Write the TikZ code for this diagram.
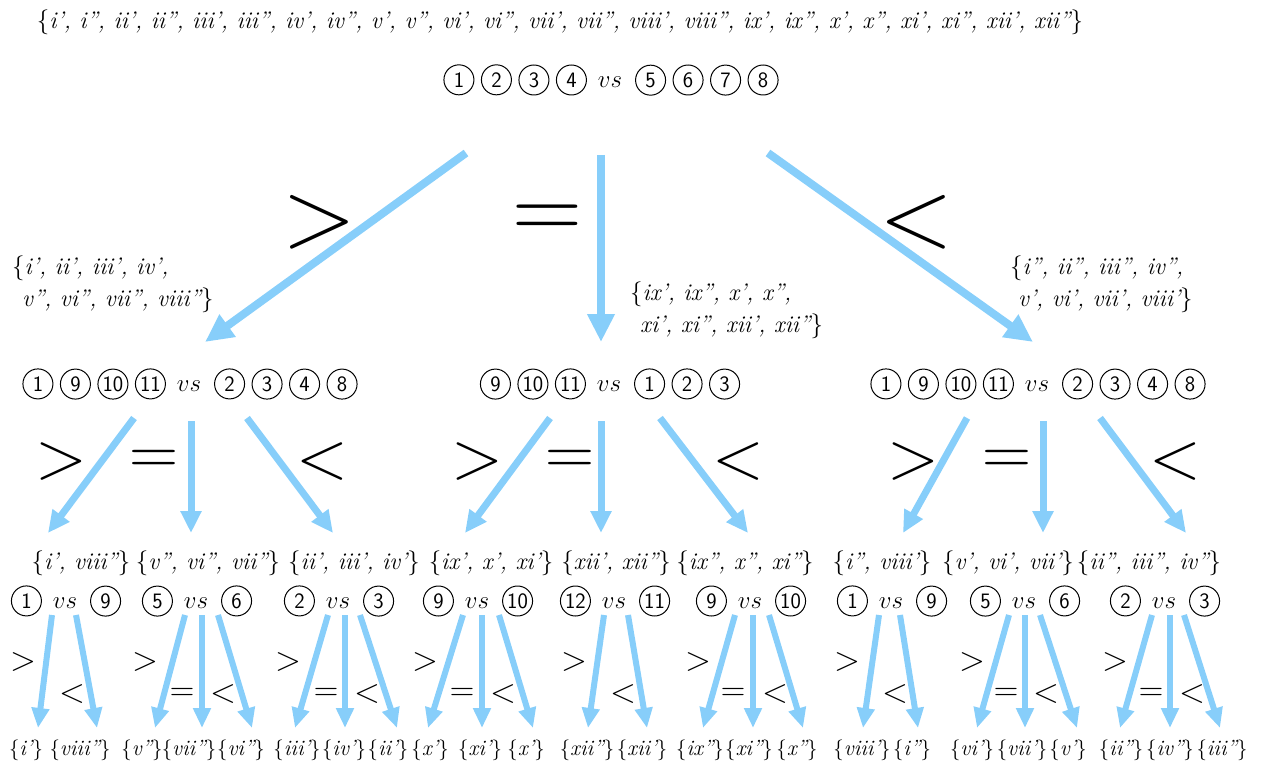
\documentclass[tikz,border=0pt]{standalone}
\usepackage{fontspec}
\usetikzlibrary{arrows.meta}
\definecolor{arrblue}{RGB}{135,206,250}
\newcommand\cn[1]{\tikz[baseline=(cnb.base)]\node[circle,draw=black,line width=1pt,minimum size=30pt,inner sep=0pt,font=\fontsize{22}{22}\selectfont\sffamily] (cnb) {#1};}
\newcommand\cg{\hspace{6.5pt}}
\newcommand\vsx{\hspace{11pt}$vs$\hspace{13pt}}
\begin{document}
\begin{tikzpicture}[x=1pt,y=-1pt,
 settext/.style={font=\fontsize{24}{32}\selectfont\itshape,inner sep=0pt,align=left},
 cmp/.style={font=\fontsize{23}{26}\selectfont,inner sep=0pt},
 symA/.style={font=\fontsize{97}{97}\selectfont,inner sep=0pt},
 symB/.style={font=\fontsize{68}{68}\selectfont,inner sep=0pt},
 symC/.style={font=\fontsize{34}{34}\selectfont,inner sep=0pt},
 botset/.style={font=\fontsize{22}{24}\selectfont\itshape,inner sep=0pt},
 arrA/.style={draw=arrblue,line width=8pt,-{Triangle[length=28pt,width=26pt]}},
 arrB/.style={draw=arrblue,line width=7pt,-{Triangle[length=22pt,width=20pt]}},
 arrC/.style={draw=arrblue,line width=6pt,-{Triangle[length=20pt,width=17pt]}}]
\useasboundingbox (0,0) rectangle (1266,767);

% ---- top
\node[settext] (topset) at (560,22) {$\{$i’, i”, ii’, ii”, iii’, iii”, iv’, iv”, v’, v”, vi’, vi”, vii’, vii”, viii’, viii”, ix’, ix”, x’, x”, xi’, xi”, xii’, xii”$\}$};
\node[cmp] (r0) at (611,80) {\cn{1}\cg\cn{2}\cg\cn{3}\cg\cn{4}\vsx\cn{5}\cg\cn{6}\cg\cn{7}\cg\cn{8}};

% ---- level 1 arrows and symbols
\coordinate (a1s) at (466,153); \coordinate (a1e) at (205,342);
\coordinate (a2s) at (601,155); \coordinate (a2e) at (601,342);
\coordinate (a3s) at (768,153); \coordinate (a3e) at (1033,342);
\draw[arrA] (a1s) -- (a1e);
\draw[arrA] (a2s) -- (a2e);
\draw[arrA] (a3s) -- (a3e);
\node[symA] (sg1) at (319,222) {>};
\node[symA] (se1) at (547,222) {=};
\node[symA] (sl1) at (916,222) {<};

\node[settext,anchor=west] (setL) at (12,284) {$\{$i’, ii’, iii’, iv’,\\\hspace*{10pt}v”, vi”, vii”, viii”$\}$};
\node[settext,anchor=west] (setM) at (630,310) {$\{$ix’, ix”, x’, x”,\\\hspace*{10pt}xi’, xi”, xii’, xii”$\}$};
\node[settext,anchor=west] (setR) at (1010,284) {$\{$i”, ii”, iii”, iv”,\\\hspace*{8pt}v’, vi’, vii’, viii’$\}$};

% ---- level 2 rows
\node[cmp] (rL) at (190,384) {\cn{1}\cg\cn{9}\cg\cn{10}\cg\cn{11}\vsx\cn{2}\cg\cn{3}\cg\cn{4}\cg\cn{8}};
\node[cmp] (rM) at (610,384) {\cn{9}\cg\cn{10}\cg\cn{11}\vsx\cn{1}\cg\cn{2}\cg\cn{3}};
\node[cmp] (rR) at (1038,384) {\cn{1}\cg\cn{9}\cg\cn{10}\cg\cn{11}\vsx\cn{2}\cg\cn{3}\cg\cn{4}\cg\cn{8}};

% ---- level 2 arrows
\foreach \xa/\xb/\ya [count=\i] in {134/48/418, 191/191/421, 247/333/418,
  550/465/418, 601/601/421, 660/748/418,
  967/903/418, 1043/1043/421, 1100/1186/418} {
  \coordinate (m\i s) at (\xa,\ya);
  \coordinate (m\i e) at (\xb,533);
  \draw[arrB] (m\i s) -- (m\i e);
}
\foreach \x/\s [count=\i] in {61/>, 154/=, 322/<, 477/>, 570/=, 738/<, 913/>, 1007/=, 1175/<}
  \node[symB] (ms\i) at (\x,462) {\s};

% ---- level 3 sets
\foreach \x/\t [count=\i] in {81/{i’, viii”}, 208/{v”, vi”, vii”}, 354/{ii’, iii’, iv’},
  491/{ix’, x’, xi’}, 616/{xii’, xii”}, 745/{ix”, x”, xi”},
  882/{i”, viii’}, 1008/{v’, vi’, vii’}, 1149/{ii”, iii”, iv”}}
  \node[settext] (ls\i) at (\x,563) {$\{$\t$\}$};

% ---- level 3 comparisons
\foreach \x/\p/\q [count=\i] in {66/1/9, 197/5/6, 339/2/3, 478/9/10, 615/12/11, 751/9/10, 892/1/9, 1025/5/6, 1165/2/3}
  \node[cmp] (lc\i) at (\x,601) {\cn{\p}\vsx\cn{\q}};

% ---- level 3 arrows
\foreach \xa/\xb [count=\i] in {52/38, 76/97,
  185/155, 202/202, 218/252,
  328/295, 345/345, 360/397,
  463/428, 482/482, 499/533,
  604/588, 628/647,
  735/703, 753/753, 769/803,
  879/863, 900/918,
  1009/977, 1025/1025, 1040/1077,
  1152/1120, 1170/1170, 1184/1220} {
  \coordinate (b\i s) at (\xa,615);
  \coordinate (b\i e) at (\xb,728);
  \draw[arrC] (b\i s) -- (b\i e);
}

% ---- level 3 symbols
\foreach \x/\y/\s [count=\i] in {23/662/>, 72/694/<,
  145/662/>, 182/694/=, 223/694/<,
  288/662/>, 326/694/=, 367/694/<,
  425/662/>, 462/694/=, 503/694/<,
  574/662/>, 623/694/<,
  698/662/>, 733/694/=, 775/694/<,
  847/662/>, 895/694/<,
  972/662/>, 1006/694/=, 1046/694/<,
  1115/662/>, 1151/694/=, 1192/694/<}
  \node[symC] (ss\i) at (\x,\y) {\s};

% ---- bottom sets
\foreach \x/\t [count=\i] in {26/{i’}, 80/{viii”}, 142/{v”}, 189/{vii”}, 241/{vi”},
  297/{iii’}, 344/{iv’}, 388/{ii’}, 430/{x’}, 480/{xi’}, 526/{x’},
  587/{xii”}, 642/{xii’}, 700/{ix”}, 749/{xi”}, 797/{x”},
  862/{viii’}, 912/{i”}, 972/{vi’}, 1022/{vii’}, 1068/{v’},
  1121/{ii”}, 1170/{iv”}, 1222/{iii”}}
  \node[botset] (bs\i) at (\x,750) {$\{$\t$\}$};
\end{tikzpicture}
\end{document}
